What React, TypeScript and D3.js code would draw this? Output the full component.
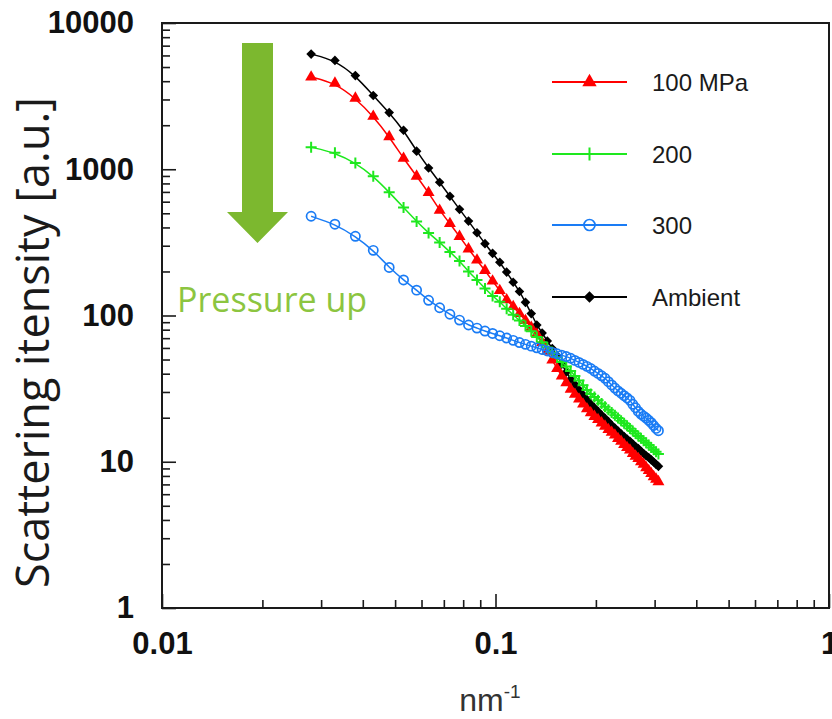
import { useEffect, useRef } from 'react';
import * as d3 from 'd3';

// scattering vector q (nm^-1)
const qValues = [
  0.028, 0.033, 0.038, 0.043, 0.048, 0.053, 0.058, 0.063, 0.068, 0.073,
  0.078, 0.083, 0.088, 0.093, 0.098, 0.103, 0.108, 0.113, 0.118, 0.123,
  0.128, 0.133, 0.138, 0.143, 0.148, 0.153, 0.158, 0.163, 0.168, 0.173,
  0.178, 0.183, 0.188, 0.193, 0.198, 0.203, 0.208, 0.213, 0.218, 0.223,
  0.228, 0.233, 0.238, 0.243, 0.248, 0.253, 0.258, 0.263, 0.268, 0.273,
  0.278, 0.283, 0.288, 0.293, 0.298, 0.303, 0.308,
];

const ambient = [
  6130, 5550, 4370, 3190, 2440, 1850, 1330, 1021, 815, 653,
  532, 442, 368, 310, 266, 231, 198, 169, 146, 123,
  103, 86, 76, 67, 59.5, 53, 46.5, 41, 36.7, 33.7,
  31.1, 28.7, 26.6, 24.8, 23.4, 22.1, 20.9, 19.8, 18.8, 17.8,
  17.0, 16.2, 15.5, 14.9, 14.3, 13.8, 13.2, 12.7, 12.3, 11.8,
  11.4, 11.0, 10.7, 10.3, 9.97, 9.6, 9.3,
];

const mpa100 = [
  4270, 3876, 3059, 2299, 1669, 1186, 896, 692, 524, 425,
  347, 285, 239, 203, 172, 148, 128, 115, 103, 92.3,
  82.9, 74.6, 65.2, 57.0, 49.5, 43.3, 38.6, 34.7, 31.3, 28.9,
  26.8, 24.8, 23.0, 21.6, 20.4, 19.4, 18.4, 17.5, 16.6, 15.9,
  15.2, 14.4, 13.8, 13.1, 12.5, 12.0, 11.4, 10.9, 10.5, 10.0,
  9.6, 9.1, 8.7, 8.3, 7.9, 7.6, 7.3,
];

const mpa200 = [
  1415, 1299, 1105, 897, 696, 547, 440, 367, 316, 272,
  236, 200, 175, 153, 136, 124, 111, 101, 92.4, 84.9,
  78.0, 71.4, 65.6, 60.5, 55.9, 51.8, 48.1, 44.8, 41.7, 38.6,
  35.9, 33.3, 31.0, 29.1, 27.7, 26.3, 25.0, 23.8, 22.7, 21.7,
  20.8, 19.9, 19.1, 18.3, 17.6, 16.9, 16.2, 15.6, 15.0, 14.5,
  13.9, 13.5, 13.0, 12.5, 12.1, 11.7, 11.3,
];

const mpa300 = [
  477, 421, 348, 279, 213, 175, 149, 127, 113, 102,
  93.0, 86.1, 82.0, 78.3, 75.4, 72.7, 70.1, 67.6, 65.3, 63.5,
  61.7, 60.1, 58.6, 57.2, 56.0, 54.7, 53.5, 52.4, 51.0, 49.3,
  47.8, 46.3, 44.9, 43.4, 41.7, 40.2, 38.7, 37.2, 35.3, 33.5,
  31.9, 30.5, 29.4, 28.3, 27.3, 26.3, 24.7, 23.4, 22.1, 21.2,
  20.5, 19.9, 19.2, 18.5, 17.7, 16.9, 16.3,
];

const legendNames = ['100 MPa', '200', '300', 'Ambient'];
const xMajorTicks = [0.01, 0.1, 1];
const xTickLabels = ['0.01', '0.1', '1'];
const yMajorTicks = [1, 10, 100, 1000, 10000];
const yTickLabels = ['1', '10', '100', '1000', '10000'];

const RED = '#ff0000';
const GREEN = '#1ee81e';
const BLUE = '#1a7cf5';
const BLACK = '#000000';

// draw one marker of the given kind at (cx, cy)
function drawMarker(g, kind, color, cx, cy, k = 1) {
  if (kind === 'triangle') {
    g.append('path')
      .attr('d', d3.symbol().type(d3.symbolTriangle).size(62 * k * k)())
      .attr('transform', `translate(${cx},${cy})`)
      .attr('fill', color);
  } else if (kind === 'diamond') {
    g.append('path')
      .attr('d', d3.symbol().type(d3.symbolSquare).size(46 * k * k)())
      .attr('transform', `translate(${cx},${cy}) rotate(45)`)
      .attr('fill', color);
  } else if (kind === 'plus') {
    const h = 5.5 * k;
    g.append('path')
      .attr('d', `M${cx - h},${cy}H${cx + h}M${cx},${cy - h}V${cy + h}`)
      .attr('stroke', color)
      .attr('stroke-width', 2)
      .attr('fill', 'none');
  } else {
    g.append('circle')
      .attr('cx', cx)
      .attr('cy', cy)
      .attr('r', 4.6 * k)
      .attr('fill', 'none')
      .attr('stroke', color)
      .attr('stroke-width', 1.7);
  }
}

export default function App() {
  const chartRef = useRef(null);

  useEffect(() => {
    const width = 832;
    const height = 719;
    const margin = { top: 23, right: 3, bottom: 111, left: 162 };

    const svg = d3.select(chartRef.current);
    svg.selectAll('*').remove();

    const x = d3.scaleLog().domain([0.01, 1]).range([margin.left, width - margin.right]);
    const y = d3.scaleLog().domain([1, 10000]).range([height - margin.bottom, margin.top]);

    const bottom = height - margin.bottom;
    const tickColor = '#1a1a1a';

    // minor ticks
    const xMinor = x.ticks().filter(t => !xMajorTicks.some(m => Math.abs(m - t) < 1e-9));
    const yMinor = y.ticks().filter(t => !yMajorTicks.some(m => Math.abs(m - t) < 1e-9));

    const styleAxis = g => {
      g.select('.domain').remove();
      g.selectAll('line').attr('stroke', tickColor).attr('stroke-width', 1.6);
      g.selectAll('text')
        .attr('fill', '#111')
        .attr('font-family', '"Liberation Sans", Arial, sans-serif')
        .attr('font-weight', 'bold')
        .attr('font-size', 31);
    };

    svg.append('g')
      .attr('transform', `translate(0,${bottom})`)
      .call(d3.axisBottom(x).tickValues(xMinor).tickSize(-8).tickFormat(() => ''))
      .call(styleAxis);

    svg.append('g')
      .attr('transform', `translate(0,${bottom})`)
      .call(d3.axisBottom(x).tickValues(xMajorTicks).tickSize(-14).tickPadding(24)
        .tickFormat((d, i) => xTickLabels[i]))
      .call(styleAxis);

    svg.append('g')
      .attr('transform', `translate(${margin.left},0)`)
      .call(d3.axisLeft(y).tickValues(yMinor).tickSize(-8).tickFormat(() => ''))
      .call(styleAxis);

    svg.append('g')
      .attr('transform', `translate(${margin.left},0)`)
      .call(d3.axisLeft(y).tickValues(yMajorTicks).tickSize(-14).tickPadding(28)
        .tickFormat((d, i) => yTickLabels[i]))
      .call(styleAxis);

    // frame
    svg.append('rect')
      .attr('x', margin.left)
      .attr('y', margin.top)
      .attr('width', width - margin.right - margin.left)
      .attr('height', bottom - margin.top)
      .attr('fill', 'none')
      .attr('stroke', '#1a1a1a')
      .attr('stroke-width', 2);

    // data series
    const series = [
      { values: ambient, color: BLACK, marker: 'diamond' },
      { values: mpa100, color: RED, marker: 'triangle' },
      { values: mpa200, color: GREEN, marker: 'plus' },
      { values: mpa300, color: BLUE, marker: 'circle' },
    ];

    const line = d3.line()
      .x((d, i) => x(qValues[i]))
      .y(d => y(d))
      .curve(d3.curveBasis);

    series.forEach(s => {
      const g = svg.append('g');
      s.values.forEach((v, i) => drawMarker(g, s.marker, s.color, x(qValues[i]), y(v)));
      g.append('path')
        .datum(s.values)
        .attr('d', line)
        .attr('fill', 'none')
        .attr('stroke', s.color)
        .attr('stroke-width', 1.5);
    });

    // legend
    const legendSeries = [series[1], series[2], series[3], series[0]];
    const legendRows = [82, 154, 225, 297];
    legendSeries.forEach((s, i) => {
      const g = svg.append('g');
      const ly = legendRows[i];
      g.append('line')
        .attr('x1', 552).attr('x2', 627)
        .attr('y1', ly).attr('y2', ly)
        .attr('stroke', s.color)
        .attr('stroke-width', 2);
      drawMarker(g, s.marker, s.color, 589.5, ly, 1.2);
      g.append('text')
        .attr('x', 652)
        .attr('y', ly + 9)
        .attr('font-family', '"Liberation Sans", Arial, sans-serif')
        .attr('font-size', 24)
        .attr('fill', '#1a1a1a')
        .text(legendNames[i]);
    });

    // pressure arrow annotation
    svg.append('path')
      .attr('d', 'M242,43H273V212H288L257.5,243L227,212H242Z')
      .attr('fill', '#7cb82f');

    svg.append('text')
      .attr('x', 177)
      .attr('y', 312)
      .attr('font-family', '"Open Sans", sans-serif')
      .attr('font-size', 34)
      .attr('fill', '#8cc540')
      .text('Pressure up');

    // axis titles
    svg.append('text')
      .attr('transform', `translate(49,${(margin.top + bottom) / 2 + 27}) rotate(-90)`)
      .attr('text-anchor', 'middle')
      .attr('font-family', '"Open Sans", sans-serif')
      .attr('font-size', 45)
      .attr('fill', '#1a1a1a')
      .text('Scattering itensity [a.u.]');

    const xt = svg.append('text')
      .attr('x', 490)
      .attr('y', 711)
      .attr('text-anchor', 'middle')
      .attr('font-family', '"Liberation Sans", Arial, sans-serif')
      .attr('font-size', 32)
      .attr('fill', '#333');
    xt.append('tspan').text('nm');
    xt.append('tspan').attr('font-size', 19).attr('dy', -13).text('-1');
  }, []);

  return (
    <svg
      ref={chartRef}
      width={832}
      height={719}
      style={{ position: 'absolute', left: 0, top: 0, background: '#fff' }}
    />
  );
}
